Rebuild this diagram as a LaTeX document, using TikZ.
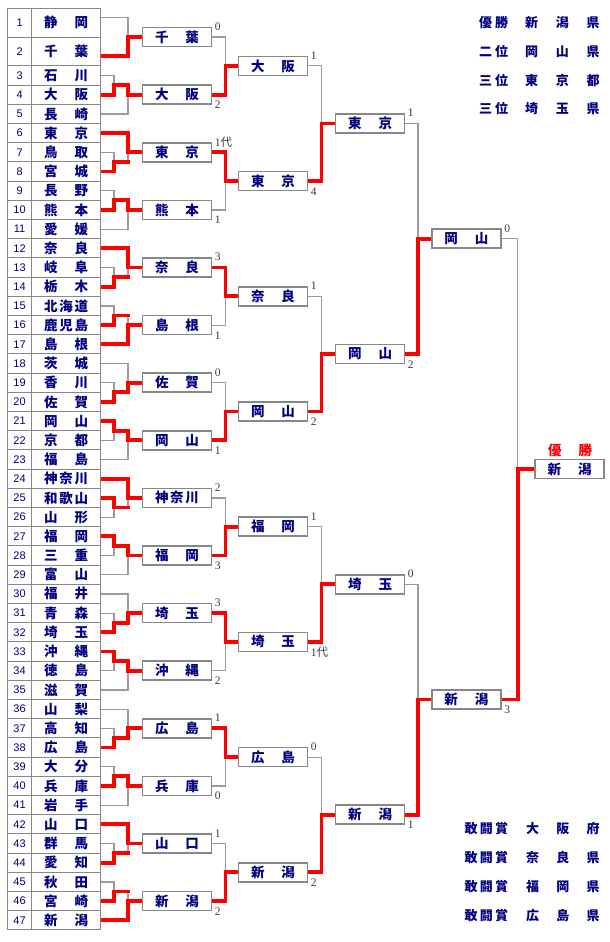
\documentclass[tikz,border=0pt]{standalone}
\usepackage{fontspec}
\setmainfont{Liberation Serif}
\newfontfamily\cjk{Noto Sans CJK JP}
\newfontfamily\numsans{Liberation Sans}
\usetikzlibrary{calc}
\definecolor{tnavy}{HTML}{000080}
\definecolor{lngray}{HTML}{9C9C9C}
\definecolor{bxgray}{HTML}{878787}
\definecolor{scgray}{HTML}{3A3A3A}
\definecolor{winred}{HTML}{FF0000}
\pgfdeclarelayer{bg}
\pgfsetlayers{bg,main}
\def\spreadi#1#2\endspread{#1\ifx\relax#2\relax\else\hfill\spreadi#2\endspread\fi}
\newcommand\spreadbox[2]{\makebox[#1]{\expandafter\spreadi#2\endspread}}
\newcommand\cellname[1]{\spreadbox{44pt}{#1}}
\newcommand\jpf{\cjk\bfseries\fontsize{13.5}{16}\selectfont}
\begin{document}
\begin{tikzpicture}[x=1pt,y=-1pt,
  tcell/.style={draw=bxgray,line width=1pt,fill=white,inner sep=0pt,minimum height=19.2pt,text=tnavy},
  numcell/.style={tcell,minimum width=24.2pt,font=\numsans\fontsize{11}{12}\selectfont},
  namecell/.style={tcell,minimum width=69pt,font=\jpf},
  rbox/.style={draw=bxgray,line width=1.5pt,fill=white,inner sep=0pt,minimum width=69pt,minimum height=19pt,text=tnavy,font=\jpf},
  gl/.style={draw=lngray,line width=1.2pt},
  rl/.style={draw=winred,line width=3.8pt,line join=miter,line cap=rect},
  sc/.style={anchor=west,inner sep=0pt,text=scgray,font=\fontsize{11.5}{12}\selectfont},
  leg/.style={inner sep=0pt,text=tnavy,font=\cjk\bfseries\fontsize{13}{15}\selectfont},
]
\useasboundingbox (0,0) rectangle (610,942);

% ---------- table ----------
\node[numcell,minimum height=28.8pt] (n1) at (19.6,22.7) {1};
\node[namecell,minimum height=28.8pt] (t1) at (66.2,22.7) {\cellname{静岡}};
\node[numcell,minimum height=28.8pt] (n2) at (19.6,51.5) {2};
\node[namecell,minimum height=28.8pt] (t2) at (66.2,51.5) {\cellname{千葉}};
\foreach \i/\nm in {3/石川,4/大阪,5/長崎,6/東京,7/鳥取,8/宮城,9/長野,10/熊本,11/愛媛,
  12/奈良,13/岐阜,14/栃木,15/北海道,16/鹿児島,17/島根,18/茨城,19/香川,20/佐賀,
  21/岡山,22/京都,23/福島,24/神奈川,25/和歌山,26/山形,27/福岡,28/三重,29/富山,
  30/福井,31/青森,32/埼玉,33/沖縄,34/徳島,35/滋賀,36/山梨,37/高知,38/広島,
  39/大分,40/兵庫,41/岩手,42/山口,43/群馬,44/愛知,45/秋田,46/宮崎,47/新潟} {
  \node[numcell] (n\i) at (19.6,{17.9+19.2*\i}) {\i};
  \node[namecell] (t\i) at (66.2,{17.9+19.2*\i}) {\cellname{\nm}};
}

% ---------- boxes ----------
\foreach \g/\nm in {0/千葉,1/大阪,2/東京,3/熊本,4/奈良,5/島根,6/佐賀,7/岡山,
  8/神奈川,9/福岡,10/埼玉,11/沖縄,12/広島,13/兵庫,14/山口,15/新潟}
  \node[rbox] (r1-\g) at (177,{17.9+19.2*(3*\g+1)}) {\cellname{\nm}};
\foreach \ja/\nm in {0/大阪,1/東京,2/奈良,3/岡山,4/福岡,5/埼玉,6/広島,7/新潟}
  \node[rbox] (r2-\ja) at (273,{17.9+19.2*(6*\ja+2.5)}) {\cellname{\nm}};
\foreach \ka/\nm in {0/東京,1/岡山,2/埼玉,3/新潟}
  \node[rbox] (r3-\ka) at (370,{17.9+19.2*(12*\ka+5.5)}) {\cellname{\nm}};
\foreach \ma/\nm in {0/岡山,1/新潟}
  \node[rbox] (r4-\ma) at (466.3,{17.9+19.2*(24*\ma+11.5)}) {\cellname{\nm}};
\node[rbox] (fin) at (569.7,{17.9+19.2*23.5}) {\cellname{新潟}};
\node[inner sep=0pt,text=winred,font=\jpf] (champ) at (570,450) {\cellname{優勝}};

% ---------- columns ----------
\coordinate (c1) at (114,0);
\coordinate (c2) at (128,0);
\coordinate (c3) at (225.5,0);
\coordinate (c4) at (321.5,0);
\coordinate (c5) at (418,0);
\coordinate (c6) at (517.7,0);
\coordinate (s1) at ([yshift=4.8pt]t1.east);
\coordinate (s2) at ([yshift=-4.8pt]t2.east);

\begin{pgfonlayer}{bg}
% first groups
\draw[gl] (s1) -- (s1 -| c2) -- (s2 -| c2) -- (s2);
\draw[gl] (r1-0.west -| c2) -- (r1-0.west);
\foreach \g in {1,...,15} {
  \pgfmathtruncatemacro\ga{3*\g}
  \pgfmathtruncatemacro\gb{3*\g+1}
  \pgfmathtruncatemacro\gc{3*\g+2}
  \ifodd\g\relax
    \coordinate (m\g) at ($(t\ga.east)!.5!(t\gb.east)$);
    \draw[gl] (t\ga.east) -- (t\ga.east -| c1) -- (t\gb.east -| c1) -- (t\gb.east);
    \draw[gl] (m\g -| c1) -- (m\g -| c2) -- (t\gc.east -| c2) -- (t\gc.east);
  \else
    \coordinate (m\g) at ($(t\gb.east)!.5!(t\gc.east)$);
    \draw[gl] (t\gb.east) -- (t\gb.east -| c1) -- (t\gc.east -| c1) -- (t\gc.east);
    \draw[gl] (m\g -| c1) -- (m\g -| c2) -- (t\ga.east -| c2) -- (t\ga.east);
  \fi
  \draw[gl] (r1-\g.west -| c2) -- (r1-\g.west);
}
\draw[rl] (s2) -- (s2 -| c2) -- (r1-0.west -| c2) -- (r1-0.west);
\foreach \g/\pw/\gw in {1/4/0,2/8/6,3/10/0,4/14/12,5/16/17,6/20/0,7/21/0,8/25/24,
  9/27/0,10/32/0,11/33/0,12/38/0,13/40/0,14/44/42,15/46/47} {
  \ifnum\gw=0\relax
    \draw[rl] (t\pw.east) -- (t\pw.east -| c1) -- (m\g -| c1) -- (m\g -| c2)
      -- (r1-\g.west -| c2) -- (r1-\g.west);
  \else
    \draw[rl] (t\pw.east) -- (t\pw.east -| c1) -- (m\g -| c1) -- (m\g -| c2);
    \draw[rl] (t\gw.east) -- (t\gw.east -| c2) -- (r1-\g.west -| c2) -- (r1-\g.west);
  \fi
}
% round 1 -> 2
\foreach \ja/\w in {0/1,1/2,2/4,3/7,4/9,5/10,6/12,7/15} {
  \pgfmathtruncatemacro\ta{2*\ja}
  \pgfmathtruncatemacro\tb{2*\ja+1}
  \draw[gl] (r1-\ta.east) -- (r1-\ta.east -| c3) -- (r1-\tb.east -| c3) -- (r1-\tb.east);
  \draw[gl] (r2-\ja.west -| c3) -- (r2-\ja.west);
  \draw[rl] (r1-\w.east) -- (r1-\w.east -| c3) -- (r2-\ja.west -| c3) -- (r2-\ja.west);
}
% round 2 -> 3
\foreach \ka in {0,1,2,3} {
  \pgfmathtruncatemacro\ta{2*\ka}
  \pgfmathtruncatemacro\tb{2*\ka+1}
  \draw[gl] (r2-\ta.east) -- (r2-\ta.east -| c4) -- (r2-\tb.east -| c4) -- (r2-\tb.east);
  \draw[gl] (r3-\ka.west -| c4) -- (r3-\ka.west);
  \draw[rl] (r2-\tb.east) -- (r2-\tb.east -| c4) -- (r3-\ka.west -| c4) -- (r3-\ka.west);
}
% round 3 -> 4
\foreach \ma in {0,1} {
  \pgfmathtruncatemacro\ta{2*\ma}
  \pgfmathtruncatemacro\tb{2*\ma+1}
  \draw[gl] (r3-\ta.east) -- (r3-\ta.east -| c5) -- (r3-\tb.east -| c5) -- (r3-\tb.east);
  \draw[gl] (r4-\ma.west -| c5) -- (r4-\ma.west);
  \draw[rl] (r3-\tb.east) -- (r3-\tb.east -| c5) -- (r4-\ma.west -| c5) -- (r4-\ma.west);
}
% final
\draw[gl] (r4-0.east) -- (r4-0.east -| c6) -- (r4-1.east -| c6) -- (r4-1.east);
\draw[gl] (fin.west -| c6) -- (fin.west);
\draw[rl] (r4-1.east) -- (r4-1.east -| c6) -- (fin.west -| c6) -- (fin.west);
\end{pgfonlayer}

% ---------- scores ----------
\foreach \g/\s in {0/0,1/2,2/1{\cjk 代},3/1,4/3,5/1,6/0,7/1,8/2,9/3,10/3,11/2,12/1,13/0,14/1,15/2} {
  \ifodd\g\relax
    \node[sc] (sa\g) at ([xshift=2.5pt,yshift=-10.3pt]r1-\g.east) {\s};
  \else
    \node[sc] (sa\g) at ([xshift=2.5pt,yshift=10.3pt]r1-\g.east) {\s};
  \fi
}
\foreach \ja/\s in {0/1,1/4,2/1,3/2,4/1,5/1{\cjk 代},6/0,7/2} {
  \ifodd\ja\relax
    \node[sc] (sb\ja) at ([xshift=2.5pt,yshift=-10.3pt]r2-\ja.east) {\s};
  \else
    \node[sc] (sb\ja) at ([xshift=2.5pt,yshift=10.3pt]r2-\ja.east) {\s};
  \fi
}
\foreach \ka/\s in {0/1,1/2,2/0,3/1} {
  \ifodd\ka\relax
    \node[sc] (sc\ka) at ([xshift=2.5pt,yshift=-10.3pt]r3-\ka.east) {\s};
  \else
    \node[sc] (sc\ka) at ([xshift=2.5pt,yshift=10.3pt]r3-\ka.east) {\s};
  \fi
}
\node[sc] (sd0) at ([xshift=2.5pt,yshift=10.3pt]r4-0.east) {0};
\node[sc] (sd1) at ([xshift=2.5pt,yshift=-10.3pt]r4-1.east) {3};

% ---------- legends ----------
\foreach \i/\p/\q in {0/優勝/新潟県,1/二位/岡山県,2/三位/東京都,3/三位/埼玉県} {
  \node[leg] (lga\i) at (493.7,{22.7+28.7*\i}) {\spreadbox{29pt}{\p}};
  \node[leg] (lgb\i) at (562.35,{22.7+28.7*\i}) {\spreadbox{74.3pt}{\q}};
}
\foreach \i/\q in {0/大阪府,1/奈良県,2/福岡県,3/広島県} {
  \node[leg] (lgc\i) at (486.35,{828.3+29.1*\i}) {\spreadbox{43.7pt}{敢闘賞}};
  \node[leg] (lgd\i) at (562.85,{828.3+29.1*\i}) {\spreadbox{73.3pt}{\q}};
}
\end{tikzpicture}
\end{document}
